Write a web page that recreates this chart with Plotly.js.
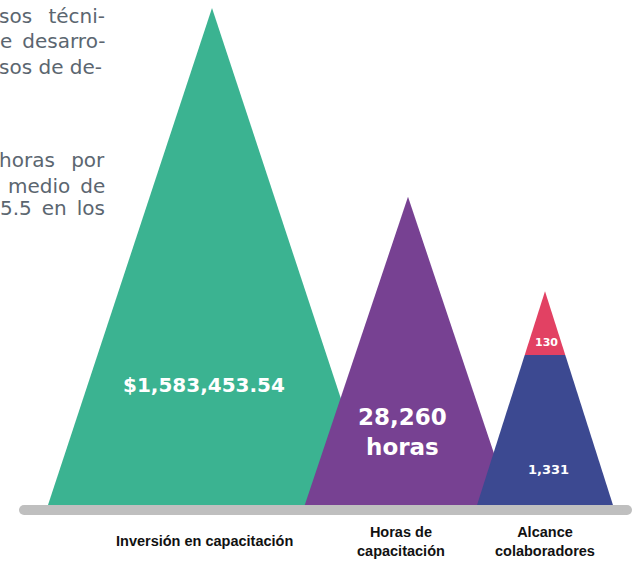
<!DOCTYPE html>
<html>
<head>
<meta charset="utf-8">
<script src="https://cdn.plot.ly/plotly-3.0.1.min.js"></script>
<style>html,body{margin:0;padding:0;background:#fff;}#chart{width:641px;height:563px;}</style>
</head>
<body>
<div id="chart"></div>
<script>
// ---- data ----
const categories = ['Inversión en capacitación', 'Horas de<br>capacitación', 'Alcance<br>colaboradores'];
const values = [1583453.54, 28260, 1461];
const valueLabels = ['$1,583,453.54', '28,260<br>horas', ''];
const reachSegments = [1331, 130];           // split of the third pictogram
const reachSegmentLabels = ['1,331', '130'];
const relativeHeights = [100, 62, 43];       // pictogram magnitudes (tallest = 100)
const paragraphLines = [['sos', 'técni-'], ['e', 'desarro-'], ['sos de de-'], ['horas', 'por'], ['medio', 'de'], ['5.5', 'en', 'los']];

// ---- styling / layout ----
const colors = ['#3bb391', '#774192', '#3c4991'];
const segColors = ['#3c4991', '#e24163'];
const pxPerUnit = 4.97;
const slopes = [0.33, 0.335, 0.318];          // half-width / height
const centers = [212, 408, 545];
const W = 641, H = 563, baseY = 505;

function tri(c, h, k, y0, y1) {
  const hw0 = k * (h - y0), hw1 = k * (h - y1);
  return { x: [c - hw0, c - hw1, c + hw1, c + hw0, c - hw0], y: [y0, y1, y1, y0, y0] };
}

const traces = [];
for (let i = 0; i < 2; i++) {
  const h = relativeHeights[i] * pxPerUnit;
  const p = tri(centers[i], h, slopes[i], 0, h);
  traces.push({ type: 'scatter', mode: 'lines', x: p.x, y: p.y, fill: 'toself', fillcolor: colors[i],
    line: { width: 0, color: colors[i] }, hoverinfo: 'skip', showlegend: false });
}
// third pictogram split by area
const h3 = relativeHeights[2] * pxPerUnit;
const total3 = reachSegments[0] + reachSegments[1];
const topFrac = Math.sqrt(reachSegments[1] / total3);
const splitH = h3 * (1 - topFrac);
[[0, splitH], [splitH, h3]].forEach((r, j) => {
  const p = tri(centers[2], h3, slopes[2], r[0], r[1]);
  traces.push({ type: 'scatter', mode: 'lines', x: p.x, y: p.y, fill: 'toself', fillcolor: segColors[j],
    line: { width: 0, color: segColors[j] }, hoverinfo: 'skip', showlegend: false });
});

const valFont = 'DejaVu Sans, Verdana, sans-serif';
const annotations = [];
annotations.push({ x: 204, y: baseY - 385, text: '<b>' + valueLabels[0] + '</b>', showarrow: false,
  font: { family: valFont, size: 20, color: '#ffffff' } });
annotations.push({ x: 402, y: baseY - 432, text: '<b>' + valueLabels[1] + '</b>', showarrow: false,
  font: { family: valFont, size: 23, color: '#ffffff' } });
annotations.push({ x: 548, y: baseY - 469, text: '<b>' + reachSegmentLabels[0] + '</b>', showarrow: false,
  font: { family: valFont, size: 13, color: '#ffffff' } });
annotations.push({ x: 546, y: baseY - 342, text: '<b>' + reachSegmentLabels[1] + '</b>', showarrow: false,
  font: { family: valFont, size: 11, color: '#ffffff' } });
// category labels
const catX = [204, 401, 545];
categories.forEach((c, i) => {
  annotations.push({ x: catX[i], y: baseY - 541, text: '<b>' + c + '</b>', showarrow: false,
    font: { family: 'Liberation Sans, Arial, sans-serif', size: 14.5, color: '#111111' } });
});
// cropped, justified paragraph text
const lineY = [16, 41, 67, 160, 186, 208];
const lineRight = [107, 107, 104, 107, 107, 107];
const lineGap = [' \u2002', '\u2002', ' ', ' \u2002', '\u2002', '\u2002'];
paragraphLines.forEach((words, i) => {
  annotations.push({ x: lineRight[i], y: baseY - lineY[i], xanchor: 'right', text: words.join(lineGap[i]), showarrow: false,
    font: { family: 'DejaVu Sans, sans-serif', size: 20, color: '#5b6670' } });
});

const layout = {
  width: W, height: H, margin: { l: 0, r: 0, t: 0, b: 0 },
  paper_bgcolor: '#ffffff', plot_bgcolor: '#ffffff',
  xaxis: { range: [0, W], visible: false, fixedrange: true },
  yaxis: { range: [baseY - H, baseY], visible: false, fixedrange: true },
  showlegend: false,
  annotations: annotations,
  shapes: [
    { type: 'rect', x0: 24, x1: 627, y0: -10, y1: 0, fillcolor: '#bfbfbf', line: { width: 0 }, layer: 'above' },
    { type: 'circle', x0: 19, x1: 29, y0: -10, y1: 0, fillcolor: '#bfbfbf', line: { width: 0 }, layer: 'above' },
    { type: 'circle', x0: 622, x1: 632, y0: -10, y1: 0, fillcolor: '#bfbfbf', line: { width: 0 }, layer: 'above' }
  ]
};
Plotly.newPlot('chart', traces, layout, { staticPlot: true, displayModeBar: false });
</script>
</body>
</html>
